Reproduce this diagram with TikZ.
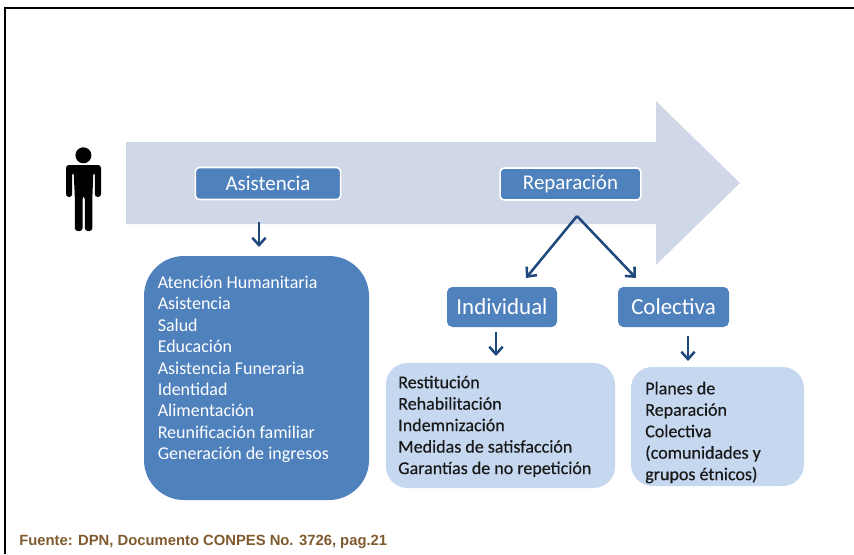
\documentclass[tikz,border=0pt]{standalone}
\usepackage{fontspec}
\setmainfont{Carlito}
\newfontfamily\footfont{Liberation Sans}
\newfontfamily\heavyfont[FakeBold=0.4]{Carlito}
\usetikzlibrary{arrows.meta}
\definecolor{arrowfill}{HTML}{D0D8E8}
\definecolor{boxblue}{HTML}{4F81BD}
\definecolor{lightblue}{HTML}{C5D8F0}
\definecolor{linkblue}{HTML}{1F497D}
\definecolor{footbrown}{HTML}{7F5A2E}
\tikzset{
  band/.style={fill=arrowfill,draw=none},
  headbox/.style={fill=boxblue,draw=white,line width=1.2pt,rounded corners=3pt,text=white,font=\fontsize{15.7}{18}\selectfont,minimum height=24pt,inner sep=0pt},
  subbox/.style={fill=boxblue,draw=none,rounded corners=4pt,text=white,font=\fontsize{17.2}{20}\selectfont,minimum height=30pt,inner sep=0pt},
  bigbox/.style={fill=boxblue,draw=none,rounded corners=30pt,minimum width=168.75pt,minimum height=183pt,inner sep=0pt},
  lightbox/.style={fill=lightblue,draw=none,rounded corners=16pt,inner sep=0pt},
  listtext/.style={align=left,anchor=north west,inner sep=0pt,font=\fontsize{13.5}{16.1}\selectfont},
  link/.style={draw=linkblue,line width=1.9pt,-{Straight Barb[length=5.5pt,width=10pt,line width=1.9pt]}}
}
\begin{document}
\begin{tikzpicture}[x=0.75pt,y=-0.75pt]
\useasboundingbox (0,0) rectangle (854,554);
\draw[black,line width=1.6pt] (5,554) -- (5,8) -- (854,8);
\path[band] (126,142) -- (656,142) -- (656,101) -- (740,183) -- (656,265) -- (656,224) -- (126,224) -- cycle;
% person
\fill[black] (83.4,155.3) circle[radius=8];
\fill[black,rounded corners=2.2pt] (66,197) -- (66,165) -- (101,165) -- (101,197) -- (94.8,197) -- (94.8,172) -- (93.4,172) -- (92.4,196) -- (92.4,231) -- (84.8,231) -- (84.8,196) -- (82.6,196) -- (82.6,231) -- (74.8,231) -- (74.8,196) -- (73.6,172) -- (72.2,172) -- (72.2,197) -- cycle;
% head boxes
\node[headbox,minimum width=109pt] (asis) at (268,183.5) {Asistencia};
\node[headbox,minimum width=105.5pt] (repa) at (570.5,184) {Reparación};
\coordinate (apex) at (577,216);
\coordinate (asisfrom) at (259,222);
% sub boxes
\node[subbox,minimum width=82.5pt] (indi) at (502,307) {Individual};
\node[subbox,minimum width=83.25pt] (cole) at (673.5,307) {Colectiva};
\node[bigbox] (big) at (256.5,378) {};
\node[lightbox,minimum width=171.75pt,minimum height=93.75pt] (l1) at (500.5,425.5) {};
\node[lightbox,minimum width=129.75pt,minimum height=89.25pt] (l2) at (717.5,426.5) {};
% texts
\node[listtext,text=white] (bigt) at (157.5,275.5) {Atención Humanitaria\\Asistencia\\Salud\\Educación\\Asistencia Funeraria\\Identidad\\Alimentación\\Reunificación familiar\\Generación de ingresos};
\node[listtext,text=black!90] (l1t) at (398,375.5) {\heavyfont Restitución\\\heavyfont Rehabilitación\\\heavyfont Indemnización\\\heavyfont Medidas de satisfacción\\\heavyfont Garantías de no repetición};
\node[listtext,text=black!90] (l2t) at (645,381.5) {\heavyfont Planes de\\\heavyfont Reparación\\\heavyfont Colectiva\\\heavyfont (comunidades y\\\heavyfont grupos étnicos)};
% connectors
\coordinate (b1) at (259,247);
\draw[link] (asisfrom) -- (b1);
\coordinate (c1) at (526,278);
\coordinate (c2) at (636,278);
\draw[link] (apex) -- (c1);
\draw[link] (apex) -- (c2);
\coordinate (d0) at (496,332);
\coordinate (d1) at (496,356);
\draw[link] (d0) -- (d1);
\coordinate (e0) at (688,336);
\coordinate (e1) at (688,361);
\draw[link] (e0) -- (e1);
\node[anchor=base west,inner sep=0pt,text=footbrown,font={\footfont\bfseries\fontsize{11.1}{13}\selectfont}] (foot) at (19,545) {Fuente: DPN, Documento CONPES No. 3726, pag.21};
\end{tikzpicture}
\end{document}
